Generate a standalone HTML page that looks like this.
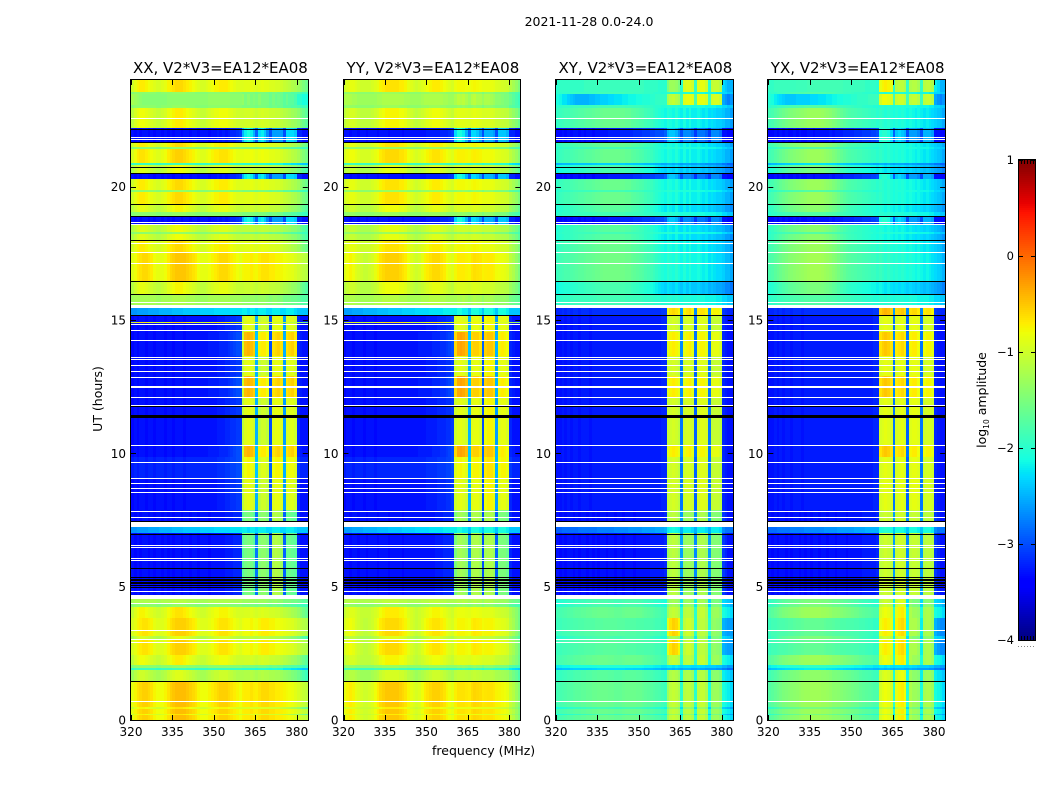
<!DOCTYPE html>
<html>
<head>
<meta charset="utf-8">
<title>2021-11-28 0.0-24.0</title>
<style>
html,body{margin:0;padding:0;background:#fff}
svg{display:block}
text{font-family:"DejaVu Sans","Liberation Sans",sans-serif;fill:#000}
</style>
</head>
<body>
<svg id="chart" xmlns="http://www.w3.org/2000/svg" width="1050" height="800" viewBox="0 0 1050 800">
<rect x="0" y="0" width="1050" height="800" fill="#fff"/>
<text x="589" y="26" font-size="12.5" text-anchor="middle">2021-11-28 0.0-24.0</text>
<text x="483.6" y="755" font-size="12.5" text-anchor="middle">frequency (MHz)</text>
<text transform="translate(102,399) rotate(-90)" font-size="12.5" text-anchor="middle">UT (hours)</text>
<text transform="translate(986,400) rotate(-90)" font-size="12.5" text-anchor="middle">log<tspan font-size="7.5" dy="3">10</tspan><tspan dy="-3"> amplitude</tspan></text>
<g id="panels"></g>
<g id="colorbar"></g>
</svg>
<script>
// Chart data (log10 amplitude, one value per 1 MHz channel from 320 to 383 MHz)
const panelTitles = ['XX, V2*V3=EA12*EA08', 'YY, V2*V3=EA12*EA08', 'XY, V2*V3=EA12*EA08', 'YX, V2*V3=EA12*EA08'];
const xTicks = [320, 335, 350, 365, 380];
const yTicks = [0, 5, 10, 15, 20];
const colorTicks = [1, 0, -1, -2, -3, -4];

// Time rows, hours, descending
const rowEdges = [24,23.55,23.48,23.06,22.95,22.2,21.68,21.5,21.42,20.88,20.8,20.5,20.29,19.86,19.8,19.35,19.05,18.9,18.55,18.3,18.24,18,17.55,16.46,15.98,15.45,15.19,14.93,14.88,14.55,14.25,13.65,12.9,12.1,11.4,11.25,10.31,9.86,9.07,7.87,7.5,7.24,7.01,4.65,4.39,4.24,3.82,3.15,3,2.44,2.06,1.95,1.87,1.46,.71,.49,.41,.24,.2,0];

const copolRowSpectra = ['m','l','c','l','m','d','m','l','m','l','m','d','m','l','m','m','l','d','m','l','m','m','w','m','l','n','b','m','b','h','h','b','h','b','b','b','h','b','b','g','g','n','g','l','l','m','w','m','w','m','l','l','m','w','w','m','w','m','w'];
const copolRowOffsets = [0,0,0,0,-.1,0,0,0,.05,-.5,-.2,0,0,0,0,-.15,0,0,-.2,0,-.2,0,-.15,-.15,.15,0,0,0,0,0,0,0,0,0,0,0,0,.1,0,0,0,0,0,.2,0,-.05,-.2,-.25,-.2,-.1,0,-.5,-.3,-.1,-.1,-.05,-.1,-.05,-.1];
const crossRowSpectra = ['t','l','c','l','m','d','m','l','m','l','m','d','m','l','m','m','l','d','m','l','m','m','m','m','l','h','b','b','b','h','h','b','h','b','b','b','h','b','b','g','g','n','g','k','k','k','w','k','w','k','l','l','k','k','k','k','k','k','k'];
const crossRowOffsets = [0,0,.15,0,0,0,0,0,0,-.5,-.2,0,0,0,0,-.1,0,0,-.1,0,-.1,0,.05,-.2,0,.1,0,0,0,0,0,0,0,0,0,0,0,0,0,0,0,0,0,-.2,-.2,0,0,-.2,0,0,-.2,-.45,-.1,0,0,-.25,0,-.25,0];

// Flagged (blank) and zero-valued (black) time samples, hours
const thinWhiteHours = [22.56,21.87,21.77,18.68,18.6,17.87,17.55,17.13,15.69,14.84,14.62,14.25,13.62,13.53,13.31,13.08,12.85,12.1,11.8,10.3,9.66,9.06,8.88,8.69,8.54,7.83,7.6,6.99,6.57,6.5,6.07,6,4.85,4.38,3.03,.71];
const wideWhiteStart = [15.58,12.53,7.42,4.69,3.38,2.93];
const wideWhiteEnd = [15.45,12.46,7.25,4.53,3.32,2.88];
const thinBlackHours = [22.18,21.67,20.73,20.5,19.35,18.9,17.99,16.45,15.96,15.18,11.77,7.48,6.96,5.69,5.38,5.3,5.25,5.19,5.14,5.06,5,1.46];
const wideBlackStart = [11.44];
const wideBlackEnd = [11.32];

// Spectrum shapes, XX
const xxWarm = [-.75,-.65,-.55,-.5,-.45,-.45,-.5,-.55,-.65,-.7,-.7,-.7,-.65,-.55,-.45,-.4,-.35,-.35,-.35,-.35,-.4,-.45,-.5,-.55,-.65,-.7,-.7,-.7,-.65,-.6,-.55,-.5,-.45,-.45,-.45,-.5,-.55,-.6,-.65,-.7,-.62,-.6,-.6,-.55,-.6,-.62,-.55,-.5,-.5,-.5,-.55,-.55,-.6,-.6,-.62,-.65,-.68,-.7,-.72,-.78,-.85,-.9,-.95,-1];
const xxMild = [-1,-.85,-.75,-.7,-.7,-.75,-.8,-.85,-.9,-.95,-.95,-.9,-.85,-.75,-.7,-.65,-.6,-.6,-.6,-.65,-.7,-.75,-.8,-.85,-.9,-.95,-.95,-.9,-.85,-.8,-.75,-.75,-.7,-.7,-.7,-.75,-.8,-.85,-.9,-.9,-.9,-.88,-.88,-.85,-.88,-.92,-.88,-.85,-.88,-.88,-.92,-.92,-.95,-.95,-1,-1.05,-1.08,-1.12,-1.18,-1.22,-1.3,-1.4,-1.5,-1.6];
const xxCool = [-1.25,-1.3,-1.35,-1.4,-1.45,-1.45,-1.45,-1.45,-1.45,-1.45,-1.45,-1.45,-1.45,-1.4,-1.4,-1.4,-1.4,-1.4,-1.4,-1.4,-1.4,-1.4,-1.4,-1.4,-1.4,-1.4,-1.4,-1.4,-1.35,-1.35,-1.35,-1.35,-1.35,-1.35,-1.35,-1.35,-1.4,-1.4,-1.4,-1.4,-1.35,-1.5,-1.4,-1.5,-1.45,-1.5,-1.4,-1.5,-1.5,-1.5,-1.6,-1.5,-1.6,-1.55,-1.6,-1.7,-1.6,-1.7,-1.7,-1.8,-2,-2,-2.1,-2.1];
const xxDark = [-3.3,-3.35,-3.3,-3.35,-3.3,-3.3,-3.35,-3.3,-3.35,-3.3,-3.3,-3.35,-3.3,-3.35,-3.3,-3.35,-3.3,-3.3,-3.35,-3.3,-3.3,-3.35,-3.3,-3.3,-3.35,-3.3,-3.3,-3.3,-3.35,-3.3,-3.3,-3.25,-3.3,-3.25,-3.3,-3.25,-3.2,-3.2,-3.15,-3.1,-2.5,-2.2,-2.1,-2.2,-2.5,-2.9,-2.3,-2.2,-2.4,-2.7,-3,-2.6,-2.6,-2.6,-2.6,-3,-2.3,-2.3,-2.3,-2.4,-3.2,-3.2,-3.3,-3.3];
const xxHot = [-3.35,-3.3,-3.35,-3.3,-3.3,-3.35,-3.3,-3.3,-3.35,-3.3,-3.3,-3.3,-3.35,-3.3,-3.3,-3.35,-3.3,-3.3,-3.3,-3.35,-3.3,-3.3,-3.3,-3.3,-3.3,-3.3,-3.3,-3.3,-3.25,-3.25,-3.25,-3.25,-3.2,-3.2,-3.2,-3.15,-3.1,-3.05,-3,-3,-1,-.45,-.4,-.45,-.55,-2.4,-.75,-.7,-.7,-.8,-3,-.65,-.6,-.55,-.65,-2.5,-.65,-.6,-.55,-.7,-3.2,-3.25,-3.3,-3.3];
const xxBlock = [-3.35,-3.3,-3.35,-3.3,-3.3,-3.35,-3.3,-3.3,-3.35,-3.3,-3.3,-3.3,-3.35,-3.3,-3.3,-3.35,-3.3,-3.3,-3.3,-3.35,-3.3,-3.3,-3.3,-3.3,-3.3,-3.3,-3.3,-3.3,-3.3,-3.3,-3.3,-3.25,-3.25,-3.25,-3.2,-3.2,-3.15,-3.15,-3.1,-3.1,-1.1,-.9,-.85,-.9,-1,-2.5,-1.1,-1,-1,-1.1,-3,-.9,-.85,-.85,-.9,-2.6,-.95,-.9,-.9,-1,-3.2,-3.3,-3.3,-3.3];
const xxGreen = [-3.3,-3.35,-3.3,-3.35,-3.3,-3.3,-3.35,-3.3,-3.35,-3.3,-3.3,-3.35,-3.3,-3.35,-3.3,-3.35,-3.3,-3.3,-3.35,-3.3,-3.3,-3.35,-3.3,-3.3,-3.35,-3.3,-3.3,-3.3,-3.35,-3.3,-3.3,-3.3,-3.3,-3.3,-3.25,-3.25,-3.25,-3.2,-3.2,-3.2,-1.7,-1.55,-1.5,-1.55,-1.7,-2.8,-1.45,-1.4,-1.4,-1.5,-3,-1.2,-1.15,-1.2,-1.3,-2.9,-1.65,-1.6,-1.65,-1.7,-3.2,-3.3,-3.3,-3.3];
const xxBand = [-2.65,-2.65,-2.6,-2.6,-2.6,-2.6,-2.55,-2.55,-2.55,-2.55,-2.5,-2.5,-2.5,-2.5,-2.5,-2.45,-2.45,-2.45,-2.45,-2.4,-2.4,-2.4,-2.4,-2.4,-2.4,-2.35,-2.35,-2.35,-2.35,-2.35,-2.3,-2.3,-2.3,-2.3,-2.3,-2.3,-2.25,-2.25,-2.25,-2.25,-2.2,-2.2,-2.3,-2.2,-2.2,-2.3,-2.2,-2.2,-2.2,-2.3,-2.3,-2.2,-2.2,-2.2,-2.3,-2.3,-2.2,-2.2,-2.2,-2.3,-2.4,-2.4,-2.4,-2.4];
const xxLine = [-1.45,-1.4,-1.4,-1.4,-1.4,-1.4,-1.4,-1.4,-1.4,-1.45,-1.45,-1.4,-1.4,-1.4,-1.4,-1.35,-1.35,-1.35,-1.35,-1.35,-1.4,-1.4,-1.4,-1.45,-1.45,-1.45,-1.45,-1.45,-1.4,-1.4,-1.4,-1.4,-1.4,-1.4,-1.4,-1.4,-1.45,-1.45,-1.45,-1.45,-1.5,-1.5,-1.5,-1.5,-1.5,-1.55,-1.5,-1.5,-1.5,-1.55,-1.6,-1.55,-1.55,-1.6,-1.6,-1.7,-1.7,-1.7,-1.75,-1.75,-1.8,-1.85,-1.9,-1.9];

// Spectrum shapes, YY
const yyWarm = [-.75,-.65,-.6,-.65,-.75,-.8,-.85,-.9,-.9,-.85,-.8,-.7,-.6,-.5,-.45,-.4,-.4,-.4,-.4,-.4,-.45,-.5,-.55,-.65,-.75,-.8,-.85,-.8,-.7,-.6,-.55,-.5,-.45,-.45,-.45,-.5,-.55,-.65,-.7,-.75,-.62,-.55,-.55,-.55,-.58,-.6,-.52,-.48,-.5,-.52,-.58,-.56,-.55,-.55,-.58,-.64,-.66,-.68,-.7,-.75,-.95,-1.05,-1.2,-1.35];
const yyMild = [-1,-.9,-.85,-.85,-.9,-.95,-1,-1,-1,-1,-.95,-.9,-.85,-.75,-.7,-.65,-.65,-.65,-.65,-.65,-.7,-.7,-.75,-.85,-.9,-.95,-1,-.95,-.9,-.85,-.8,-.75,-.7,-.7,-.7,-.75,-.8,-.85,-.9,-.95,-.82,-.78,-.78,-.78,-.8,-.82,-.78,-.76,-.78,-.8,-.84,-.84,-.84,-.84,-.86,-.92,-.94,-.96,-.98,-1,-1.15,-1.25,-1.35,-1.5];
const yyCool = [-1.2,-1.2,-1.2,-1.25,-1.25,-1.3,-1.3,-1.3,-1.3,-1.3,-1.3,-1.3,-1.25,-1.25,-1.2,-1.2,-1.2,-1.2,-1.2,-1.2,-1.2,-1.2,-1.25,-1.25,-1.3,-1.3,-1.3,-1.3,-1.25,-1.2,-1.2,-1.2,-1.2,-1.2,-1.2,-1.2,-1.25,-1.25,-1.3,-1.3,-1.2,-1.1,-1.15,-1.1,-1.2,-1.3,-1.15,-1.1,-1.2,-1.2,-1.3,-1.2,-1.2,-1.25,-1.3,-1.4,-1.4,-1.45,-1.5,-1.5,-1.6,-1.7,-1.8,-1.9];
const yyDark = [-3.3,-3.3,-3.35,-3.3,-3.3,-3.35,-3.3,-3.3,-3.35,-3.3,-3.3,-3.3,-3.35,-3.3,-3.3,-3.3,-3.35,-3.3,-3.3,-3.3,-3.3,-3.35,-3.3,-3.3,-3.3,-3.3,-3.3,-3.3,-3.3,-3.3,-3.25,-3.25,-3.25,-3.25,-3.25,-3.2,-3.2,-3.2,-3.15,-3.1,-2.3,-2.1,-2.1,-2.2,-2.5,-2.9,-2.3,-2.3,-2.4,-2.6,-3,-2.5,-2.5,-2.5,-2.6,-3,-2.4,-2.4,-2.4,-2.5,-3.2,-3.2,-3.3,-3.3];
const yyHot = [-3.35,-3.3,-3.3,-3.35,-3.3,-3.3,-3.3,-3.35,-3.3,-3.3,-3.3,-3.35,-3.3,-3.3,-3.3,-3.3,-3.3,-3.3,-3.3,-3.3,-3.3,-3.3,-3.3,-3.3,-3.3,-3.3,-3.3,-3.25,-3.25,-3.25,-3.25,-3.25,-3.2,-3.2,-3.2,-3.15,-3.15,-3.1,-3.05,-3,-.6,-.35,-.3,-.35,-.45,-2.4,-.6,-.55,-.55,-.65,-2.9,-.55,-.5,-.5,-.6,-2.5,-.75,-.7,-.75,-.8,-3.2,-3.25,-3.3,-3.3];
const yyBlock = [-3.35,-3.3,-3.3,-3.35,-3.3,-3.3,-3.3,-3.35,-3.3,-3.3,-3.3,-3.35,-3.3,-3.3,-3.3,-3.3,-3.3,-3.3,-3.3,-3.3,-3.3,-3.3,-3.3,-3.3,-3.3,-3.3,-3.3,-3.3,-3.3,-3.3,-3.25,-3.25,-3.25,-3.25,-3.2,-3.2,-3.2,-3.15,-3.15,-3.1,-1,-.9,-.85,-.9,-1,-2.5,-.9,-.85,-.85,-.95,-3,-.8,-.75,-.75,-.85,-2.6,-.9,-.85,-.85,-.95,-3.2,-3.3,-3.3,-3.3];
const yyGreen = [-3.3,-3.3,-3.35,-3.3,-3.3,-3.35,-3.3,-3.3,-3.35,-3.3,-3.3,-3.3,-3.35,-3.3,-3.3,-3.3,-3.35,-3.3,-3.3,-3.3,-3.3,-3.35,-3.3,-3.3,-3.3,-3.3,-3.3,-3.3,-3.3,-3.3,-3.3,-3.3,-3.3,-3.25,-3.25,-3.25,-3.2,-3.2,-3.2,-3.2,-1.5,-1.3,-1.25,-1.3,-1.4,-2.7,-1.25,-1.2,-1.2,-1.3,-3,-1.25,-1.2,-1.2,-1.3,-2.9,-1.5,-1.5,-1.5,-1.6,-3.2,-3.3,-3.3,-3.3];
const yyBand = [-2.6,-2.6,-2.6,-2.55,-2.55,-2.55,-2.55,-2.5,-2.5,-2.5,-2.5,-2.5,-2.45,-2.45,-2.45,-2.45,-2.4,-2.4,-2.4,-2.4,-2.4,-2.35,-2.35,-2.35,-2.35,-2.35,-2.3,-2.3,-2.3,-2.3,-2.3,-2.25,-2.25,-2.25,-2.25,-2.25,-2.2,-2.2,-2.2,-2.2,-2.2,-2.1,-2.1,-2.2,-2.2,-2.4,-2.1,-2.1,-2.1,-2.2,-2.4,-2.1,-2.1,-2.1,-2.2,-2.4,-2.1,-2.1,-2.1,-2.2,-2.4,-2.4,-2.4,-2.4];
const yyLine = [-1.4,-1.35,-1.35,-1.35,-1.4,-1.4,-1.4,-1.4,-1.4,-1.4,-1.4,-1.35,-1.35,-1.35,-1.3,-1.3,-1.3,-1.3,-1.3,-1.3,-1.35,-1.35,-1.35,-1.4,-1.4,-1.4,-1.4,-1.4,-1.35,-1.35,-1.35,-1.3,-1.3,-1.3,-1.3,-1.35,-1.35,-1.4,-1.4,-1.4,-1.4,-1.35,-1.4,-1.35,-1.4,-1.45,-1.4,-1.35,-1.4,-1.4,-1.5,-1.4,-1.4,-1.4,-1.45,-1.5,-1.5,-1.5,-1.5,-1.55,-1.7,-1.75,-1.8,-1.85];

// Spectrum shapes, XY
const xyWarm = [-1.9,-1.88,-1.85,-1.85,-1.83,-1.82,-1.8,-1.8,-1.78,-1.78,-1.76,-1.75,-1.75,-1.75,-1.72,-1.72,-1.72,-1.7,-1.7,-1.7,-1.7,-1.7,-1.72,-1.72,-1.72,-1.75,-1.75,-1.75,-1.75,-1.78,-1.78,-1.78,-1.8,-1.8,-1.8,-1.82,-1.85,-1.85,-1.9,-1.95,-.9,-.65,-.55,-.6,-.75,-1.9,-1.1,-1,-1,-1.1,-2,-1.15,-1.1,-1.1,-1.2,-2,-1.4,-1.35,-1.4,-1.45,-2.5,-2.55,-2.6,-2.6];
const xyLow = [-1.85,-1.82,-1.8,-1.78,-1.75,-1.75,-1.72,-1.7,-1.7,-1.68,-1.68,-1.65,-1.65,-1.62,-1.62,-1.6,-1.6,-1.6,-1.6,-1.62,-1.62,-1.65,-1.65,-1.65,-1.62,-1.6,-1.6,-1.6,-1.6,-1.62,-1.62,-1.65,-1.68,-1.7,-1.72,-1.75,-1.78,-1.8,-1.85,-1.9,-1.3,-1.1,-1.05,-1.1,-1.2,-2,-1.15,-1.1,-1.1,-1.2,-2,-1.1,-1.05,-1.05,-1.2,-2.1,-1.35,-1.3,-1.3,-1.4,-2.1,-2.15,-2.2,-2.3];
const xyMild = [-1.95,-1.9,-1.88,-1.85,-1.85,-1.82,-1.8,-1.78,-1.75,-1.75,-1.72,-1.7,-1.7,-1.68,-1.65,-1.65,-1.62,-1.6,-1.6,-1.6,-1.6,-1.6,-1.6,-1.62,-1.62,-1.65,-1.65,-1.7,-1.72,-1.75,-1.78,-1.8,-1.85,-1.88,-1.9,-1.95,-2,-2.05,-2.1,-2.15,-2.05,-2.1,-2.15,-2.05,-2.15,-2.2,-2.1,-2.2,-2.1,-2.2,-2.2,-2.15,-2.2,-2.25,-2.2,-2.3,-2.25,-2.3,-2.35,-2.35,-2.4,-2.5,-2.5,-2.6];
const xyCool = [-2.25,-2.3,-2.4,-2.4,-2.5,-2.55,-2.6,-2.65,-2.65,-2.65,-2.65,-2.65,-2.6,-2.6,-2.55,-2.55,-2.5,-2.5,-2.5,-2.45,-2.45,-2.4,-2.4,-2.4,-2.35,-2.35,-2.3,-2.3,-2.3,-2.25,-2.25,-2.2,-2.2,-2.2,-2.15,-2.15,-2.1,-2.1,-2.1,-2.1,-1.4,-1.25,-1.2,-1.3,-1.4,-2,-1.05,-1,-1,-1.05,-1.95,-1,-1,-1,-1.1,-2,-1.15,-1.1,-1.1,-1.2,-2.7,-2.8,-2.9,-2.8];
const xyTop = [-2,-1.95,-1.95,-1.95,-1.95,-1.95,-1.95,-1.95,-1.95,-1.95,-1.9,-1.9,-1.9,-1.9,-1.9,-1.9,-1.9,-1.9,-1.9,-1.9,-1.9,-1.9,-1.9,-1.9,-1.9,-1.9,-1.9,-1.9,-1.9,-1.9,-1.9,-1.9,-1.95,-1.95,-1.95,-1.95,-1.95,-2,-2,-2,-1.5,-1.3,-1.3,-1.35,-1.5,-2,-.95,-.9,-.9,-1,-1.95,-.9,-.85,-.85,-1,-2,-1.1,-1.05,-1.05,-1.15,-2.3,-2.4,-2.5,-2.5];
const xyDark = [-3.35,-3.35,-3.3,-3.35,-3.3,-3.35,-3.3,-3.3,-3.35,-3.3,-3.35,-3.3,-3.3,-3.35,-3.3,-3.3,-3.3,-3.3,-3.3,-3.25,-3.25,-3.25,-3.25,-3.2,-3.2,-3.2,-3.2,-3.2,-3.15,-3.15,-3.15,-3.1,-3.1,-3.1,-3.05,-3.05,-3,-3,-3,-2.9,-2.5,-2.4,-2.4,-2.5,-2.7,-3,-2.7,-2.7,-2.7,-2.8,-3.1,-2.8,-2.8,-2.8,-2.9,-3.1,-2.7,-2.7,-2.7,-2.8,-3.3,-3.3,-3.35,-3.35];
const xyHot = [-3.3,-3.3,-3.25,-3.3,-3.25,-3.3,-3.25,-3.25,-3.3,-3.25,-3.25,-3.25,-3.3,-3.25,-3.25,-3.25,-3.25,-3.25,-3.25,-3.25,-3.25,-3.25,-3.25,-3.25,-3.25,-3.25,-3.25,-3.25,-3.25,-3.25,-3.25,-3.25,-3.25,-3.25,-3.25,-3.25,-3.25,-3.25,-3.2,-3.2,-.9,-.75,-.7,-.75,-.85,-2.7,-.85,-.75,-.7,-.85,-2.8,-.8,-.75,-.75,-.85,-2.8,-.9,-.85,-.85,-.95,-3.2,-3.25,-3.3,-3.3];
const xyBlock = [-3.3,-3.3,-3.25,-3.3,-3.25,-3.3,-3.25,-3.25,-3.3,-3.25,-3.25,-3.25,-3.3,-3.25,-3.25,-3.25,-3.25,-3.25,-3.25,-3.25,-3.25,-3.25,-3.25,-3.25,-3.25,-3.25,-3.25,-3.25,-3.25,-3.25,-3.25,-3.25,-3.25,-3.25,-3.25,-3.25,-3.25,-3.25,-3.2,-3.2,-1.05,-1,-.95,-1,-1.1,-2.8,-1,-.95,-.95,-1,-2.9,-.95,-.9,-.9,-.95,-2.8,-1.1,-1.05,-1.05,-1.1,-3.2,-3.25,-3.3,-3.3];
const xyGreen = [-3.3,-3.35,-3.3,-3.35,-3.3,-3.3,-3.35,-3.3,-3.35,-3.3,-3.3,-3.35,-3.3,-3.35,-3.3,-3.35,-3.3,-3.3,-3.35,-3.3,-3.3,-3.35,-3.3,-3.3,-3.35,-3.3,-3.3,-3.3,-3.35,-3.3,-3.3,-3.3,-3.3,-3.3,-3.25,-3.25,-3.25,-3.25,-3.25,-3.2,-1.3,-1.15,-1.1,-1.15,-1.3,-2.6,-1.35,-1.3,-1.3,-1.35,-2.7,-1.25,-1.2,-1.2,-1.3,-2.6,-1.45,-1.45,-1.45,-1.5,-3.1,-3.2,-3.3,-3.3];
const xyBand = [-2.9,-2.9,-2.85,-2.85,-2.85,-2.85,-2.85,-2.85,-2.8,-2.8,-2.8,-2.8,-2.8,-2.8,-2.8,-2.75,-2.75,-2.75,-2.75,-2.75,-2.75,-2.7,-2.7,-2.7,-2.7,-2.7,-2.65,-2.65,-2.65,-2.65,-2.65,-2.6,-2.6,-2.6,-2.6,-2.6,-2.55,-2.55,-2.55,-2.5,-2.2,-2.15,-2.1,-2.15,-2.2,-2.5,-2.2,-2.2,-2.2,-2.3,-2.5,-2.2,-2.2,-2.2,-2.3,-2.5,-2.2,-2.2,-2.2,-2.3,-2.7,-2.8,-2.8,-2.8];
const xyLine = [-2,-1.98,-1.95,-1.95,-1.95,-1.92,-1.9,-1.9,-1.9,-1.9,-1.9,-1.9,-1.9,-1.88,-1.88,-1.85,-1.85,-1.85,-1.85,-1.85,-1.85,-1.85,-1.85,-1.85,-1.85,-1.88,-1.88,-1.88,-1.9,-1.9,-1.9,-1.92,-1.95,-1.95,-1.95,-1.98,-2,-2,-2.05,-2.05,-2,-2,-2.05,-2,-2.05,-2.1,-2.05,-2.05,-2.05,-2.1,-2.1,-2.05,-2.1,-2.1,-2.15,-2.15,-2.15,-2.15,-2.2,-2.2,-2.3,-2.3,-2.4,-2.4];

// Spectrum shapes, YX
const yxWarm = [-1.9,-1.85,-1.85,-1.82,-1.8,-1.8,-1.78,-1.75,-1.75,-1.72,-1.7,-1.7,-1.68,-1.65,-1.65,-1.65,-1.65,-1.65,-1.65,-1.65,-1.68,-1.7,-1.7,-1.72,-1.75,-1.75,-1.78,-1.78,-1.8,-1.8,-1.8,-1.82,-1.82,-1.85,-1.85,-1.88,-1.9,-1.9,-1.95,-1.95,-.85,-.75,-.7,-.75,-.85,-2.1,-.75,-.65,-.6,-.7,-2.1,-1.2,-1.2,-1.2,-1.3,-2.2,-1.25,-1.2,-1.2,-1.3,-2.5,-2.6,-2.7,-2.7];
const yxLow = [-1.75,-1.7,-1.65,-1.6,-1.55,-1.5,-1.48,-1.45,-1.42,-1.4,-1.38,-1.35,-1.32,-1.3,-1.3,-1.28,-1.28,-1.28,-1.28,-1.3,-1.3,-1.32,-1.35,-1.4,-1.4,-1.42,-1.45,-1.48,-1.5,-1.52,-1.55,-1.58,-1.6,-1.65,-1.68,-1.7,-1.72,-1.75,-1.78,-1.8,-.95,-.85,-.8,-.85,-.95,-2,-.85,-.75,-.7,-.8,-2.05,-1.2,-1.3,-1.3,-1.35,-2.1,-1.25,-1.2,-1.2,-1.3,-2.1,-2.15,-2.2,-2.3];
const yxMild = [-1.85,-1.82,-1.75,-1.7,-1.65,-1.6,-1.55,-1.5,-1.48,-1.45,-1.42,-1.4,-1.38,-1.35,-1.32,-1.3,-1.3,-1.3,-1.3,-1.32,-1.35,-1.38,-1.42,-1.48,-1.52,-1.58,-1.65,-1.7,-1.75,-1.78,-1.8,-1.82,-1.85,-1.85,-1.88,-1.9,-1.92,-1.95,-1.95,-2,-1.95,-2,-2.05,-2,-2.05,-2.1,-2.05,-2.1,-2.05,-2.1,-2.15,-2.1,-2.15,-2.2,-2.15,-2.2,-2.25,-2.2,-2.25,-2.3,-2.35,-2.4,-2.45,-2.55];
const yxCool = [-2.2,-2.25,-2.35,-2.4,-2.45,-2.5,-2.55,-2.55,-2.55,-2.55,-2.5,-2.5,-2.5,-2.5,-2.5,-2.45,-2.45,-2.45,-2.4,-2.4,-2.4,-2.35,-2.35,-2.3,-2.3,-2.25,-2.25,-2.2,-2.2,-2.2,-2.15,-2.15,-2.1,-2.1,-2.1,-2.1,-2.05,-2.05,-2.05,-2.05,-1.1,-.95,-.95,-1,-1.1,-2,-1.2,-1.15,-1.15,-1.25,-2,-1.25,-1.2,-1.2,-1.3,-2.05,-1.25,-1.2,-1.2,-1.3,-2.7,-2.8,-2.9,-2.8];
const yxTop = [-1.95,-1.95,-1.9,-1.9,-1.9,-1.9,-1.9,-1.9,-1.9,-1.9,-1.88,-1.88,-1.88,-1.88,-1.85,-1.85,-1.85,-1.85,-1.85,-1.85,-1.85,-1.85,-1.85,-1.85,-1.85,-1.85,-1.85,-1.88,-1.88,-1.88,-1.9,-1.9,-1.9,-1.9,-1.9,-1.95,-1.95,-1.95,-1.95,-2,-.85,-.75,-.7,-.75,-.85,-2,-1.15,-1.1,-1.1,-1.2,-1.95,-1.2,-1.15,-1.15,-1.25,-1.95,-1.15,-1.1,-1.1,-1.2,-2.2,-2.3,-2.5,-2.5];
const yxDark = [-3.35,-3.35,-3.3,-3.35,-3.3,-3.35,-3.3,-3.35,-3.35,-3.3,-3.35,-3.3,-3.35,-3.35,-3.3,-3.3,-3.35,-3.3,-3.3,-3.3,-3.3,-3.3,-3.25,-3.3,-3.25,-3.25,-3.25,-3.2,-3.2,-3.2,-3.2,-3.15,-3.15,-3.15,-3.1,-3.1,-3.1,-3.05,-3.05,-3,-2.1,-2,-2,-2.1,-2.3,-2.9,-2.4,-2.3,-2.4,-2.5,-3,-2.6,-2.6,-2.6,-2.7,-3,-2.5,-2.5,-2.5,-2.6,-3.3,-3.3,-3.35,-3.35];
const yxHot = [-3.3,-3.3,-3.25,-3.3,-3.25,-3.3,-3.25,-3.25,-3.3,-3.25,-3.25,-3.25,-3.3,-3.25,-3.25,-3.25,-3.25,-3.25,-3.25,-3.25,-3.25,-3.25,-3.25,-3.25,-3.25,-3.25,-3.25,-3.25,-3.25,-3.25,-3.25,-3.25,-3.25,-3.25,-3.25,-3.25,-3.25,-3.25,-3.2,-3.2,-.65,-.55,-.5,-.55,-.65,-2.7,-.7,-.65,-.6,-.7,-2.8,-.75,-.7,-.7,-.8,-2.8,-.8,-.75,-.75,-.85,-3.2,-3.25,-3.3,-3.3];
const yxBlock = [-3.3,-3.3,-3.25,-3.3,-3.25,-3.3,-3.25,-3.25,-3.3,-3.25,-3.25,-3.25,-3.3,-3.25,-3.25,-3.25,-3.25,-3.25,-3.25,-3.25,-3.25,-3.25,-3.25,-3.25,-3.25,-3.25,-3.25,-3.25,-3.25,-3.25,-3.25,-3.25,-3.25,-3.25,-3.25,-3.25,-3.25,-3.25,-3.2,-3.2,-.95,-.9,-.85,-.9,-.95,-2.8,-.95,-.9,-.85,-.95,-2.9,-.9,-.85,-.85,-.9,-2.8,-1,-.95,-.95,-1,-3.2,-3.25,-3.3,-3.3];
const yxGreen = [-3.3,-3.35,-3.3,-3.35,-3.3,-3.3,-3.35,-3.3,-3.35,-3.3,-3.3,-3.35,-3.3,-3.35,-3.3,-3.35,-3.3,-3.3,-3.35,-3.3,-3.3,-3.35,-3.3,-3.3,-3.35,-3.3,-3.3,-3.3,-3.35,-3.3,-3.3,-3.3,-3.3,-3.3,-3.25,-3.25,-3.25,-3.25,-3.25,-3.2,-1.1,-1.05,-1,-1.05,-1.1,-2.6,-1.05,-1,-1,-1.05,-2.7,-1.1,-1.05,-1.05,-1.1,-2.6,-1.15,-1.1,-1.1,-1.15,-3.1,-3.2,-3.3,-3.3];
const yxBand = [-2.85,-2.85,-2.85,-2.8,-2.8,-2.8,-2.8,-2.8,-2.75,-2.75,-2.75,-2.75,-2.75,-2.7,-2.7,-2.7,-2.7,-2.7,-2.7,-2.7,-2.65,-2.65,-2.65,-2.65,-2.65,-2.6,-2.6,-2.6,-2.6,-2.6,-2.6,-2.55,-2.55,-2.55,-2.55,-2.5,-2.5,-2.5,-2.5,-2.5,-2.1,-2.05,-2,-2.05,-2.1,-2.4,-2.1,-2.1,-2.1,-2.2,-2.4,-2.1,-2.1,-2.1,-2.2,-2.4,-2.1,-2.1,-2.1,-2.2,-2.7,-2.8,-2.8,-2.8];
const yxLine = [-2,-1.95,-1.95,-1.9,-1.9,-1.88,-1.85,-1.85,-1.82,-1.8,-1.8,-1.78,-1.78,-1.75,-1.75,-1.75,-1.75,-1.75,-1.75,-1.75,-1.75,-1.78,-1.78,-1.8,-1.82,-1.85,-1.85,-1.88,-1.9,-1.9,-1.92,-1.95,-1.95,-1.95,-1.98,-2,-2,-2,-2.05,-2.05,-2,-2,-2.05,-2,-2.05,-2.1,-2.05,-2.05,-2.05,-2.1,-2.1,-2.05,-2.1,-2.1,-2.15,-2.15,-2.15,-2.15,-2.2,-2.2,-2.3,-2.3,-2.4,-2.4];

const panelSpectra = [
  {w:xxWarm,m:xxMild,c:xxCool,d:xxDark,h:xxHot,b:xxBlock,g:xxGreen,n:xxBand,l:xxLine},
  {w:yyWarm,m:yyMild,c:yyCool,d:yyDark,h:yyHot,b:yyBlock,g:yyGreen,n:yyBand,l:yyLine},
  {w:xyWarm,k:xyLow,m:xyMild,c:xyCool,t:xyTop,d:xyDark,h:xyHot,b:xyBlock,g:xyGreen,n:xyBand,l:xyLine},
  {w:yxWarm,k:yxLow,m:yxMild,c:yxCool,t:yxTop,d:yxDark,h:yxHot,b:yxBlock,g:yxGreen,n:yxBand,l:yxLine}
];
const panelRowSpectra = [copolRowSpectra, copolRowSpectra, crossRowSpectra, crossRowSpectra];
const panelRowOffsets = [copolRowOffsets, copolRowOffsets, crossRowOffsets, crossRowOffsets];
const panelNames = ['xx', 'yy', 'xy', 'yx'];

// Layout
const SVGNS = 'http://www.w3.org/2000/svg';
const plotTop = 80, plotBottom = 720, plotWidth = 176.8;
const panelLefts = [131, 343.5, 556, 768.3];
const freqMin = 320, freqMax = 384, hourMax = 24;
const barLeft = 1019, barRight = 1035, barTop = 160, barBottom = 640;
const colorMin = -4, colorMax = 1;

function yScale(h) { return plotBottom - (h / hourMax) * (plotBottom - plotTop); }
function xScale(f, left) { return left + (f - freqMin) / (freqMax - freqMin) * plotWidth; }
function barScale(v) { return barBottom - (v - colorMin) / (colorMax - colorMin) * (barBottom - barTop); }
function jetPiece(t, pts) {
  for (let i = 1; i < pts.length; i++) {
    if (t <= pts[i][0]) {
      const a = pts[i - 1], b = pts[i];
      return a[1] + (b[1] - a[1]) * (t - a[0]) / (b[0] - a[0]);
    }
  }
  return pts[pts.length - 1][1];
}
function jet(v) {
  const t = Math.max(0, Math.min(1, (v - colorMin) / (colorMax - colorMin)));
  const r = jetPiece(t, [[0,0],[.35,0],[.66,1],[.89,1],[1,.5]]);
  const g = jetPiece(t, [[0,0],[.125,0],[.375,1],[.64,1],[.91,0],[1,0]]);
  const b = jetPiece(t, [[0,.5],[.11,1],[.34,1],[.65,0],[1,0]]);
  return 'rgb(' + Math.round(r * 255) + ',' + Math.round(g * 255) + ',' + Math.round(b * 255) + ')';
}
function svgEl(tag, attrs, parent) {
  const el = document.createElementNS(SVGNS, tag);
  for (const k in attrs) el.setAttribute(k, attrs[k]);
  parent.appendChild(el);
  return el;
}

const panelsRoot = document.getElementById('panels');
panelTitles.forEach(function (title, p) {
  const left = panelLefts[p];
  const right = left + plotWidth;
  const g = svgEl('g', {}, panelsRoot);
  
  

  // heatmap cells
  const cells = svgEl('g', {'shape-rendering': 'crispEdges'}, g);
  
  
  const spectra = panelSpectra[p];
  for (let r = 0; r + 1 < rowEdges.length; r++) {
    const spec = spectra[panelRowSpectra[p][r]];
    const off = panelRowOffsets[p][r];
    const y0 = Math.round(yScale(rowEdges[r]));
    const y1 = Math.round(yScale(rowEdges[r + 1]));
    for (let c = 0; c < spec.length; c++) {
      const x0 = Math.round(xScale(freqMin + c, left));
      const x1 = Math.round(xScale(freqMin + c + 1, left));
      const cell = svgEl('rect', {x: x0, y: y0, width: x1 - x0, height: y1 - y0, fill: jet(spec[c] + off)}, cells);
      
      
    }
  }

  // flagged samples
  const flags = svgEl('g', {'shape-rendering': 'crispEdges'}, g);
  
  
  const x0 = Math.round(left), x1 = Math.round(right);
  function flagRect(y, h, color) {
    const el = svgEl('rect', {x: x0, y: y, width: x1 - x0, height: h, fill: color}, flags);
    
    
  }
  thinWhiteHours.forEach(function (h) { flagRect(Math.round(yScale(h)), 1, '#fff'); });
  wideWhiteStart.forEach(function (h, i) {
    const a = Math.round(yScale(h)), b = Math.round(yScale(wideWhiteEnd[i]));
    flagRect(a, b - a, '#fff');
  });
  thinBlackHours.forEach(function (h) { flagRect(Math.round(yScale(h)), 1, '#000'); });
  wideBlackStart.forEach(function (h, i) {
    const a = Math.round(yScale(h)), b = Math.round(yScale(wideBlackEnd[i]));
    flagRect(a, b - a, '#000');
  });

  // ticks
  xTicks.forEach(function (f) {
    const x = Math.round(xScale(f, left)) + .5;
    const t1 = svgEl('line', {x1: x, x2: x, y1: plotBottom, y2: plotBottom - 5, stroke: '#000'}, g);
    
    
    const t2 = svgEl('line', {x1: x, x2: x, y1: plotTop, y2: plotTop + 5, stroke: '#000'}, g);
    
    
    const lab = svgEl('text', {x: xScale(f, left), y: 736, 'font-size': 12, 'text-anchor': 'middle'}, g);
    
    
    lab.textContent = String(f);
  });
  yTicks.forEach(function (h) {
    const y = Math.round(yScale(h)) + .5;
    const t1 = svgEl('line', {x1: left, x2: left + 5, y1: y, y2: y, stroke: '#000'}, g);
    
    
    const t2 = svgEl('line', {x1: right, x2: right - 5, y1: y, y2: y, stroke: '#000'}, g);
    
    
    const lab = svgEl('text', {x: left - 5, y: yScale(h) + 4.5, 'font-size': 12, 'text-anchor': 'end'}, g);
    
    
    lab.textContent = String(h);
  });

  // frame + title
  const frame = svgEl('rect', {x: x0 - .5, y: plotTop - .5, width: x1 - x0 + 1, height: plotBottom - plotTop + 1, fill: 'none', stroke: '#000', 'stroke-width': 1}, g);
  
  
  const ttl = svgEl('text', {x: left + plotWidth / 2 + 1, y: 73, 'font-size': 15, 'text-anchor': 'middle'}, g);
  
  
  ttl.textContent = title;
});

// Colorbar
const cb = document.getElementById('colorbar');
const ramp = svgEl('g', {'shape-rendering': 'crispEdges'}, cb);


for (let y = barTop; y < barBottom; y += 2) {
  const v = colorMax - (y + 1 - barTop) / (barBottom - barTop) * (colorMax - colorMin);
  const seg = svgEl('rect', {x: barLeft, y: y, width: barRight - barLeft, height: 2, fill: jet(v)}, ramp);
  
  
}
colorTicks.forEach(function (v) {
  const y = Math.round(barScale(v)) + .5;
  const a = svgEl('line', {x1: barLeft, x2: barLeft + 4, y1: y, y2: y, stroke: '#000'}, cb);
  
  
  const b = svgEl('line', {x1: barRight, x2: barRight - 4, y1: y, y2: y, stroke: '#000'}, cb);
  
  
  const lab = svgEl('text', {x: 1014, y: barScale(v) + 4, 'font-size': 11.5, 'text-anchor': 'end'}, cb);
  
  
  lab.textContent = v < 0 ? '\u2212' + Math.abs(v) : String(v);
});
[1021, 1024, 1027, 1030, 1033].forEach(function (x) {
  const up = svgEl('line', {x1: x + .5, x2: x + .5, y1: barTop, y2: barTop + 4, stroke: '#000'}, cb);
  
  
  const dn = svgEl('line', {x1: x + .5, x2: x + .5, y1: barBottom, y2: barBottom - 4, stroke: '#000'}, cb);
  
  
});
const barFrame = svgEl('rect', {x: barLeft - .5, y: barTop - .5, width: barRight - barLeft + 1, height: barBottom - barTop + 1, fill: 'none', stroke: '#000'}, cb);


const dots = svgEl('line', {x1: 1018, x2: 1035, y1: 646.5, y2: 646.5, stroke: '#888', 'stroke-dasharray': '1 2'}, cb);


</script>
</body>
</html>
